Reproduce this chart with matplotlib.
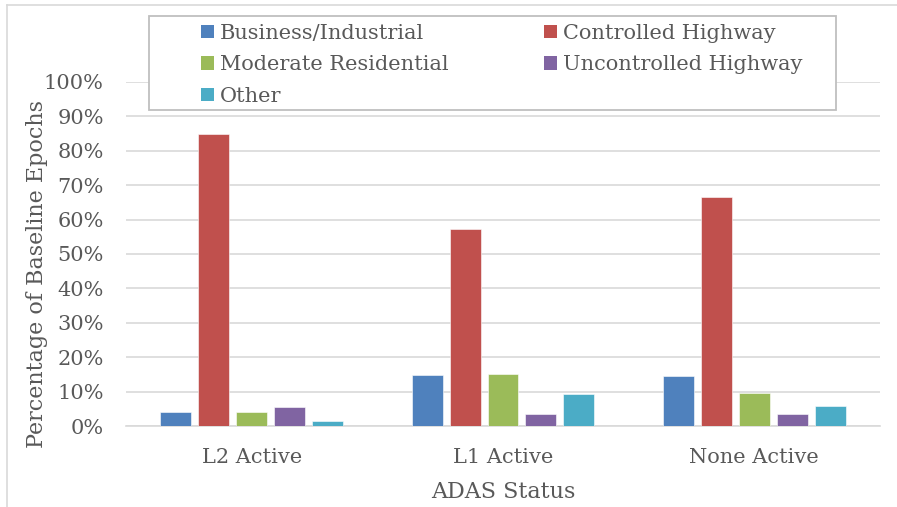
import numpy as np
import matplotlib.pyplot as plt
from matplotlib.patches import Rectangle, Patch
from matplotlib.lines import Line2D

# data
categories = ["L2 Active", "L1 Active", "None Active"]
series_names = ["Business/Industrial", "Controlled Highway", "Moderate Residential",
                "Uncontrolled Highway", "Other"]
business = [4.0, 14.7, 14.6]
controlled = [84.9, 57.3, 66.6]
moderate = [4.0, 15.1, 9.6]
uncontrolled = [5.4, 3.5, 3.5]
other = [1.5, 9.3, 5.7]
y_ticks = [0, 10, 20, 30, 40, 50, 60, 70, 80, 90, 100]

colors = ["#4F81BD", "#C0504D", "#9BBB59", "#8064A2", "#4BACC6"]
TXT = "#595959"
W, H = 897, 507
plt.rcParams['font.family'] = "DejaVu Serif"

fig = plt.figure(figsize=(W / 100, H / 100), dpi=100)
ax = fig.add_axes([126 / W, 1 - 426 / H, 754 / W, 344 / H])

# only the left and top edge of the pasted chart frame show
fig.lines.append(Line2D([7 / W, 7 / W], [0, 1 - 5 / H], transform=fig.transFigure,
                        color="#d9d9d9", linewidth=1.2))
fig.lines.append(Line2D([7 / W, 1], [1 - 5 / H, 1 - 5 / H], transform=fig.transFigure,
                        color="#d9d9d9", linewidth=1.2))

x = np.arange(len(categories))
width = 0.123
step = 0.151
all_series = [business, controlled, moderate, uncontrolled, other]
for i, vals in enumerate(all_series):
    ax.bar(x + (i - 2) * step, vals, width=width, color=colors[i], zorder=3,
           edgecolor="white", linewidth=0.4)

ax.set_xlim(-0.5, 2.5)
ax.set_ylim(0, 100)
ax.set_yticks(y_ticks)
ax.set_yticklabels([f"{t}%" for t in y_ticks])
ax.set_xticks(x)
ax.set_xticklabels(categories)
ax.grid(axis='y', color="#d9d9d9", linewidth=1.2, zorder=0)
for s in ["top", "right", "left"]:
    ax.spines[s].set_visible(False)
ax.spines["bottom"].set_color("#d9d9d9")
ax.spines["bottom"].set_linewidth(1.2)
ax.tick_params(axis='both', length=0, labelsize=15, colors=TXT)
ax.tick_params(axis='y', pad=16)
ax.tick_params(axis='x', pad=16)

ax.set_ylabel("Percentage of Baseline Epochs", fontsize=16, color=TXT)
ax.yaxis.set_label_coords(-0.1034, (426 - 274) / 344)
ax.set_xlabel("ADAS Status", fontsize=16, color=TXT, labelpad=10)

# legend box drawn by hand, entries placed inside it
fig.patches.append(Rectangle((149 / W, 1 - 110 / H), 687 / W, 94 / H,
                             transform=fig.transFigure, facecolor="white",
                             edgecolor="#bfbfbf", linewidth=1.3, zorder=5))
order = [0, 2, 4, 1, 3]
handles = [Patch(facecolor=colors[i], label=series_names[i]) for i in order]
leg = fig.legend(handles=handles, ncol=2, loc="upper left",
                 bbox_to_anchor=(201 / W, 1 - 24 / H),
                 frameon=False, fontsize=15,
                 handlelength=0.62, handleheight=0.62, handletextpad=0.3,
                 columnspacing=4.55, labelspacing=0.6, borderpad=0,
                 borderaxespad=0)
leg.set_zorder(6)
for t in leg.get_texts():
    t.set_color(TXT)

fig.savefig("out.png", dpi=100)
